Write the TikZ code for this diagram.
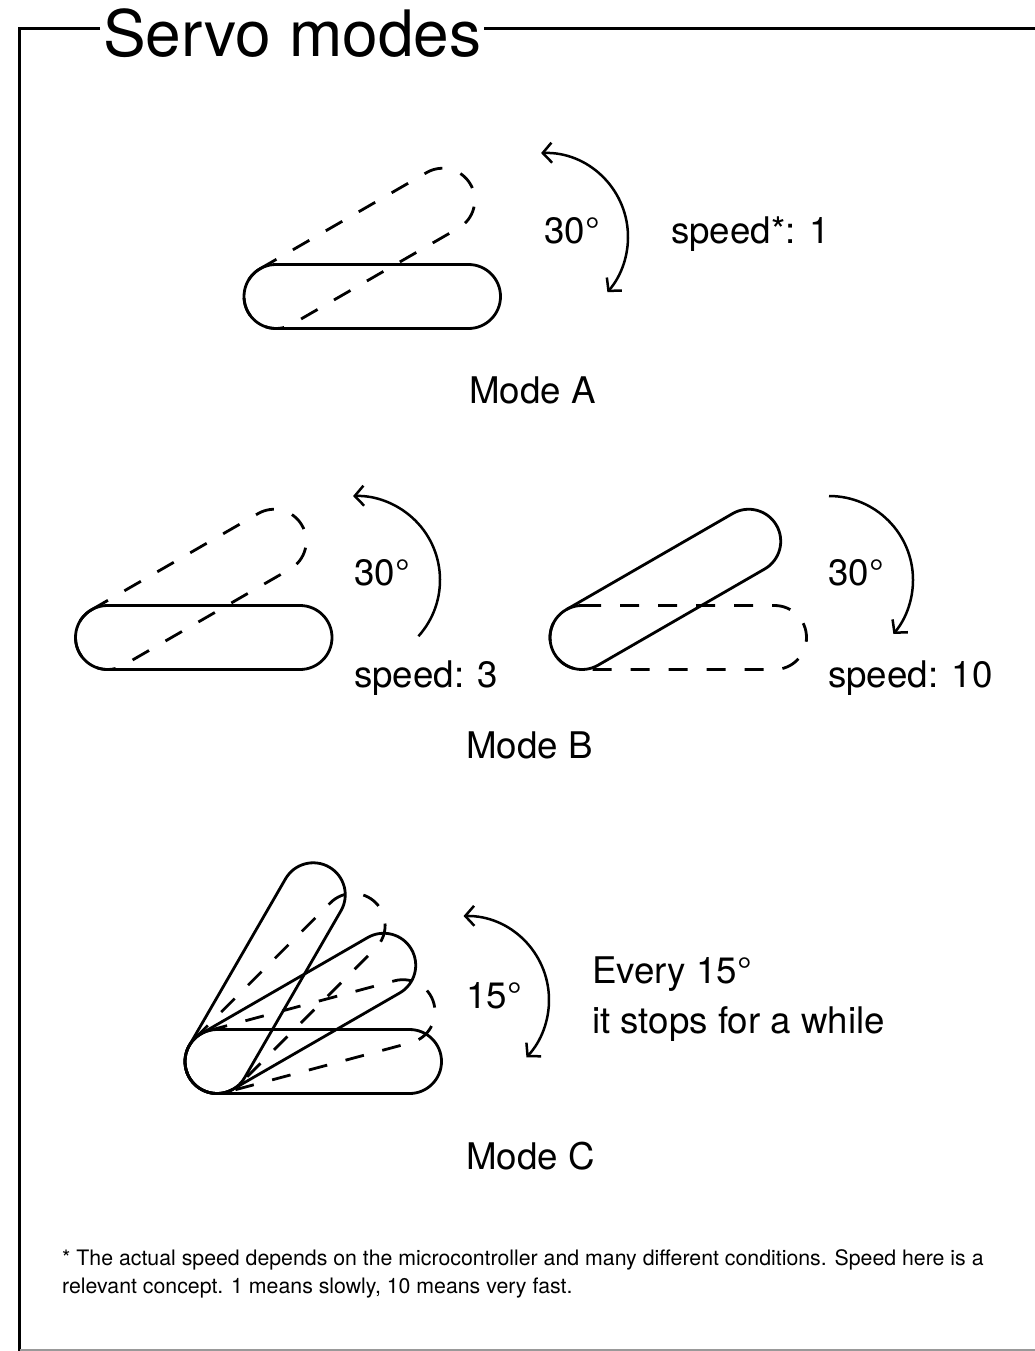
\documentclass[tikz,border=0pt]{standalone}
\usepackage{fontspec}
\setmainfont{TeX Gyre Heros}
\usetikzlibrary{arrows.meta}

\tikzset{
  outline/.style={line width=2.8pt, line join=round},
  ghost/.style={outline, dash pattern=on 19pt off 19pt},
  barb/.style={},
  turn/.style={line width=2.5pt,
    arrows={-Straight Barb[length=9pt,width=20pt,line width=2.5pt]}},
  twoway/.style={turn,
    arrows={Straight Barb[length=9pt,width=20pt,line width=2.5pt]-Straight Barb[length=9pt,width=20pt,line width=2.5pt]}},
  label/.style={font=\fontsize{36.7}{40}\selectfont, inner sep=0pt, anchor=base west},
  note/.style={font=\fontsize{21.3}{26}\selectfont, inner sep=0pt, anchor=base west},
  heading/.style={font=\fontsize{64}{70}\selectfont, inner sep=3pt, anchor=base west},
  frame/.style={line width=3pt},
  % a servo horn: rounded bar, pivot at its left end centre
  pill/.pic={
    \draw (0,-32) -- (192.5,-32) arc[start angle=-90,end angle=90,radius=32]
          -- (0,32) arc[start angle=90,end angle=270,radius=32] -- cycle;
  }
}

\begin{document}
\begin{tikzpicture}[x=1pt,y=-1pt]
\useasboundingbox (0,0) rectangle (1035,1351);

% frame with title
\node[heading] (title) at (100,57) {Servo modes};
\coordinate (tl) at (19,29);
\coordinate (tr) at (1035,29);
\coordinate (bl) at (19,1351);
\coordinate (bl2) at (20,1350);
\coordinate (br) at (1035,1350);
\draw[frame] (title.west |- tl) -- (tl) -- (bl);
\draw[frame] (title.east |- tr) -- (tr);
\draw[gray!80, line width=1.5pt] (bl2) -- (br);

% Mode A
\pic[outline] at (276,296.5) {pill};
\pic[ghost, rotate=30] at (276,296.5) {pill};
\draw[twoway] (544,237) ++(-92:84) arc[start angle=-92, end angle=41, radius=84];
\node[label] (a30) at (544,243) {30°};
\node[label] (aspeed) at (671,243) {speed*: 1};
\node[label] (modeA) at (469,403) {Mode A};

% Mode B, left
\pic[outline] at (107.5,637.5) {pill};
\pic[ghost, rotate=30] at (107.5,637.5) {pill};
\draw[turn] (356,580) ++(42:84) arc[start angle=42, end angle=-92, radius=84];
\node[label] (b30l) at (354,585) {30°};
\node[label] (bspeedl) at (354,687) {speed: 3};

% Mode B, right
\pic[ghost] at (582,637.5) {pill};
\pic[outline, rotate=30] at (582,637.5) {pill};
\draw[turn] (829,580) ++(-90:84) arc[start angle=-90, end angle=40, radius=84];
\node[label] (b30r) at (828,585) {30°};
\node[label] (bspeedr) at (828,687) {speed: 10};
\node[label] (modeB) at (466,758) {Mode B};

% Mode C
\pic[outline] at (217,1061.5) {pill};
\pic[ghost, rotate=15] at (217,1061.5) {pill};
\pic[outline, rotate=30] at (217,1061.5) {pill};
\pic[ghost, rotate=45] at (217,1061.5) {pill};
\pic[outline, rotate=60] at (217,1061.5) {pill};
\draw[twoway] (465,1000) ++(-91:84) arc[start angle=-91, end angle=43, radius=84];
\node[label] (c15) at (466,1008) {15°};
\node[label] (every) at (592,983) {Every 15°};
\node[label] (stops) at (592,1033) {it stops for a while};
\node[label] (modeC) at (466,1169) {Mode C};

% footnote
\node[note] (note1) at (62,1265) {* The actual speed depends on the microcontroller and many different conditions. Speed here is a};
\node[note] (note2) at (62,1293) {relevant concept. 1 means slowly, 10 means very fast.};
\end{tikzpicture}
\end{document}
